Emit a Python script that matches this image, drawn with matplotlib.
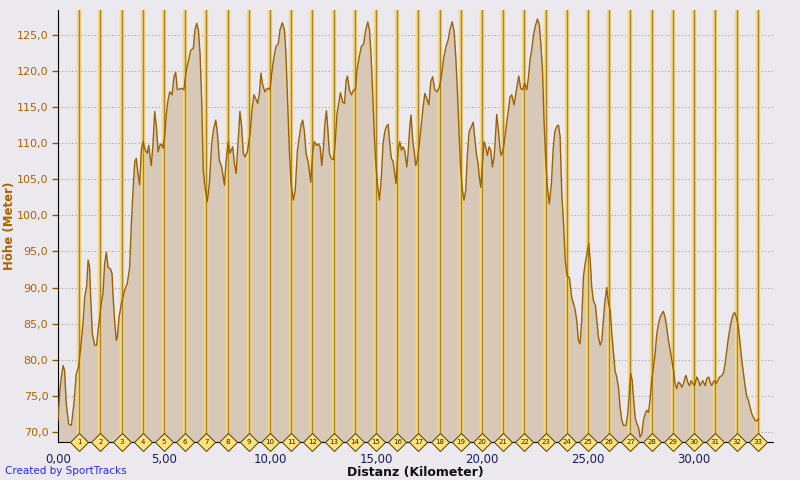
import matplotlib
matplotlib.use('Agg')
import matplotlib.pyplot as plt
from matplotlib.ticker import FuncFormatter

# distance (km) and elevation (m)
dist_km = [0.00, 0.08, 0.16, 0.24, 0.31, 0.39, 0.50, 0.63, 0.75, 0.86, 0.97,
           1.07, 1.18, 1.26, 1.35, 1.42, 1.49, 1.54, 1.62, 1.73, 1.82, 1.89, 1.97,
           2.04, 2.12, 2.20, 2.28, 2.36, 2.47, 2.55, 2.59, 2.67, 2.75, 2.80, 2.88, 2.99,
           3.14, 3.27, 3.38, 3.46, 3.54, 3.62, 3.69, 3.77, 3.85, 3.93,
           4.01, 4.12, 4.21, 4.28, 4.34, 4.40, 4.48, 4.56, 4.64, 4.72, 4.80, 4.87, 4.95,
           5.03, 5.11, 5.19, 5.27, 5.38, 5.47, 5.55, 5.63, 5.74, 5.82, 5.94,
           6.05, 6.16, 6.26, 6.38, 6.46, 6.54, 6.62, 6.70, 6.78, 6.85, 6.93,
           7.04, 7.14, 7.25, 7.33, 7.44, 7.52, 7.61, 7.72, 7.85, 7.92,
           8.03, 8.11, 8.24, 8.32, 8.40, 8.51, 8.58, 8.66, 8.74, 8.82, 8.93,
           9.06, 9.15, 9.24, 9.32, 9.42, 9.50, 9.57, 9.65, 9.76, 9.87,
           10.00, 10.08, 10.19, 10.28, 10.39, 10.47, 10.58, 10.68, 10.75, 10.83, 10.91, 10.99,
           11.10, 11.19, 11.29, 11.38, 11.46, 11.54, 11.62, 11.70, 11.81, 11.92,
           12.01, 12.09, 12.20, 12.28, 12.36, 12.44, 12.52, 12.59, 12.66, 12.73, 12.80, 12.88,
           13.00, 13.08, 13.16, 13.24, 13.32, 13.43, 13.51, 13.59, 13.65, 13.74, 13.84, 13.95,
           14.03, 14.10, 14.21, 14.31, 14.42, 14.50, 14.61, 14.69, 14.76, 14.84, 14.92,
           15.00, 15.08, 15.16, 15.25, 15.33, 15.41, 15.49, 15.57, 15.64, 15.72, 15.80, 15.88, 15.94,
           16.04, 16.12, 16.20, 16.27, 16.35, 16.45, 16.51, 16.59, 16.65, 16.73, 16.81, 16.87, 16.95,
           17.04, 17.14, 17.22, 17.30, 17.41, 17.49, 17.58, 17.67, 17.77, 17.88, 17.99,
           18.08, 18.19, 18.30, 18.40, 18.48, 18.59, 18.68, 18.76, 18.84, 18.92, 18.99,
           19.07, 19.15, 19.23, 19.31, 19.39, 19.50, 19.58, 19.65, 19.73, 19.81, 19.87, 19.94,
           20.02, 20.09, 20.17, 20.25, 20.33, 20.41, 20.49, 20.57, 20.63, 20.69, 20.77, 20.85, 20.91,
           21.01, 21.08, 21.16, 21.24, 21.32, 21.40, 21.51, 21.62, 21.73, 21.82, 21.92,
           22.01, 22.11, 22.19, 22.26, 22.34, 22.42, 22.50, 22.61, 22.70, 22.77, 22.85, 22.92,
           23.00, 23.08, 23.17, 23.27, 23.35, 23.43, 23.52, 23.60, 23.68, 23.76, 23.84, 23.92,
           24.00, 24.12, 24.23, 24.31, 24.39, 24.47, 24.54, 24.62, 24.70, 24.78, 24.86, 24.94,
           25.03, 25.10, 25.17, 25.25, 25.35, 25.41, 25.49, 25.57, 25.65, 25.72, 25.80, 25.88, 25.96,
           26.04, 26.12, 26.20, 26.27, 26.35, 26.43, 26.51, 26.59, 26.67, 26.79, 26.87, 26.93,
           27.01, 27.08, 27.14, 27.22, 27.30, 27.38, 27.45, 27.53, 27.61, 27.69, 27.77, 27.85, 27.92,
           28.00, 28.08, 28.16, 28.24, 28.32, 28.40, 28.48, 28.55, 28.63, 28.71, 28.79, 28.87, 28.95,
           29.03, 29.10, 29.18, 29.26, 29.34, 29.42, 29.50, 29.58, 29.62, 29.70, 29.78, 29.86, 29.94,
           30.02, 30.13, 30.21, 30.28, 30.41, 30.52, 30.60, 30.69, 30.76, 30.83, 30.94,
           31.04, 31.12, 31.20, 31.31, 31.38, 31.46, 31.54, 31.62, 31.70, 31.78, 31.86, 31.92,
           32.01, 32.09, 32.17, 32.25, 32.33, 32.41, 32.49, 32.56, 32.64, 32.72, 32.80, 32.88, 32.96,
           33.04]

elev_m = [71.6, 75.5, 77.6, 79.2, 78.5, 73.9, 71.1, 70.9, 73.9, 78.0, 79.0,
          81.7, 85.0, 88.7, 90.1, 93.8, 92.8, 88.7, 83.6, 82.0, 82.0, 84.1, 85.9,
          87.8, 89.1, 93.3, 94.9, 92.8, 92.6, 91.9, 89.1, 85.4, 82.7, 83.1, 85.9, 87.8,
          89.6, 90.6, 92.8, 98.9, 103.5, 107.4, 107.9, 105.8, 104.2, 109.0,
          110.2, 109.0, 108.6, 109.7, 108.1, 106.9, 109.9, 114.4, 112.3, 108.8, 109.7, 109.9, 109.3,
          110.9, 114.1, 116.0, 117.1, 116.7, 119.2, 119.8, 117.4, 117.5, 117.6, 117.4,
          120.1, 121.5, 122.9, 123.1, 125.7, 126.6, 125.7, 122.4, 115.5, 106.3, 103.9,
          101.9, 104.4, 110.0, 111.8, 113.2, 111.3, 107.6, 106.7, 104.2, 107.2,
          110.2, 108.6, 109.5, 107.2, 105.8, 110.9, 114.4, 112.3, 108.6, 108.1, 108.8,
          111.3, 114.6, 116.7, 116.2, 115.5, 116.9, 119.7, 118.1, 117.1, 117.6,
          117.4, 119.7, 122.0, 123.4, 123.8, 125.7, 126.7, 125.7, 122.4, 115.5, 109.0, 104.4,
          102.1, 103.5, 109.0, 110.9, 112.5, 113.2, 111.6, 108.6, 107.2, 104.6,
          108.6, 110.2, 109.7, 109.9, 109.5, 106.9, 109.5, 112.8, 114.5, 111.8, 108.6, 107.9,
          107.7, 110.4, 114.1, 115.5, 117.0, 115.7, 115.5, 118.7, 119.3, 117.4, 116.7, 117.4,
          117.4, 120.1, 122.0, 123.4, 123.8, 125.5, 126.8, 125.7, 122.4, 116.9, 110.9,
          106.7, 103.9, 102.1, 105.3, 109.9, 111.6, 112.3, 112.6, 110.2, 107.9, 107.5, 105.8, 104.4,
          109.0, 110.2, 109.0, 109.5, 109.0, 106.7, 108.6, 112.3, 113.9, 110.4, 108.6, 106.9, 107.7,
          109.9, 112.7, 115.0, 116.9, 116.0, 115.3, 118.5, 119.2, 117.4, 117.1, 117.8,
          119.2, 121.8, 123.4, 124.3, 125.7, 126.8, 125.5, 122.0, 117.0, 111.0, 106.3,
          103.5, 102.1, 103.5, 108.6, 111.6, 112.3, 112.9, 110.9, 108.6, 107.2, 105.3, 103.9,
          107.2, 110.2, 109.5, 108.3, 109.5, 109.0, 106.7, 108.1, 110.9, 114.0, 111.8, 109.0, 108.3,
          109.3, 110.9, 112.7, 114.6, 116.4, 116.7, 115.3, 117.4, 119.3, 117.6, 117.4,
          118.3, 117.4, 119.2, 121.5, 122.9, 124.8, 126.1, 127.2, 126.4, 123.8, 120.1, 113.2,
          107.7, 103.9, 101.6, 104.4, 109.0, 111.6, 112.3, 112.5, 110.9, 103.0, 98.9, 93.8,
          91.7, 91.3, 88.6, 87.8, 86.9, 85.3, 82.7, 82.2, 85.5, 91.5, 93.3, 94.5,
          96.1, 93.8, 90.1, 88.2, 87.5, 85.5, 83.1, 82.0, 82.7, 85.5, 88.2, 90.0, 87.8,
          86.9, 83.6, 80.8, 78.5, 77.6, 76.2, 73.4, 71.6, 70.9, 70.9, 72.5, 74.8,
          78.1, 77.1, 74.8, 72.0, 71.1, 70.6, 69.3, 69.7, 71.6, 72.5, 73.0, 72.7, 74.4,
          77.1, 79.0, 80.8, 83.6, 85.0, 85.9, 86.4, 86.7, 85.9, 84.5, 82.7, 81.3, 79.9,
          78.5, 76.7, 76.0, 76.9, 76.7, 76.2, 76.7, 77.6, 77.8, 76.9, 76.4, 77.1, 76.7,
          76.4, 77.6, 77.1, 76.4, 77.1, 76.4, 77.4, 77.6, 76.9, 76.4, 77.1,
          76.7, 77.1, 77.6, 77.8, 78.1, 79.4, 81.3, 83.1, 84.5, 85.7, 86.4, 86.5,
          85.7, 84.5, 82.2, 79.9, 78.1, 76.2, 74.8, 74.4, 73.4, 72.5, 72.0, 71.6, 71.5,
          71.8]

km_marks = list(range(1, 34))
x_ticks = [0, 5, 10, 15, 20, 25, 30]
y_ticks = [70, 75, 80, 85, 90, 95, 100, 105, 110, 115, 120, 125]

bg = '#ECE9EE'
ymin, ymax = 68.6, 128.45

fig = plt.figure(figsize=(8, 4.8), dpi=100, facecolor=bg)
ax = fig.add_axes([0.0725, 0.0792, 0.894, 0.9])
ax.set_facecolor(bg)

# dotted horizontal grid
for y in y_ticks:
    ax.axhline(y, color='#9a9a9a', lw=0.8, ls=(0, (1, 2)), zorder=1)

ax.fill_between(dist_km, elev_m, ymin, color='#D8C8B8', lw=0, zorder=2)

# km markers
for k in km_marks:
    ax.axvline(k, color='#F4D77E', lw=3.2, zorder=3)
    ax.axvline(k, color='#A8842C', lw=1.0, zorder=3)

ax.plot(dist_km, elev_m, color='#9A6200', lw=1.0, zorder=4)

for k in km_marks:
    ax.plot(k, ymin, marker='D', ms=9, mfc='#FFE27A', mec='#4A3C10', mew=0.7,
            clip_on=False, zorder=6)
    ax.text(k, ymin, str(k), fontsize=5, ha='center', va='center',
            color='#202020', zorder=7, clip_on=False)

ax.set_xlim(0, 33.73)
ax.set_ylim(ymin, ymax)

ax.set_xticks(x_ticks)
ax.xaxis.set_major_formatter(FuncFormatter(lambda v, p: ('%.2f' % v).replace('.', ',')))
ax.set_yticks(y_ticks)
ax.yaxis.set_major_formatter(FuncFormatter(lambda v, p: ('%.1f' % v).replace('.', ',')))
ax.tick_params(axis='x', length=0, pad=8, labelsize=8.5, labelcolor='#1a1a5a')
ax.tick_params(axis='y', length=4, width=1, color='#8a5a00', pad=3,
               labelsize=8, labelcolor='#A86400')

for s in ['top', 'right']:
    ax.spines[s].set_visible(False)
ax.spines['left'].set_color('black')
ax.spines['bottom'].set_color('black')
ax.spines['bottom'].set_zorder(5)

ax.set_xlabel('Distanz (Kilometer)', fontsize=9, fontweight='bold', color='#101010', labelpad=0)
ax.set_ylabel('Höhe (Meter)', fontsize=8.5, fontweight='bold', color='#A86400')
ax.yaxis.set_label_coords(-0.059, 0.5)

fig.text(5 / 800, 1 - 471 / 480, 'Created by SportTracks', fontsize=7.5,
         color='#2828E0', ha='left', va='center')

fig.savefig('out.png', dpi=100, facecolor=bg)
